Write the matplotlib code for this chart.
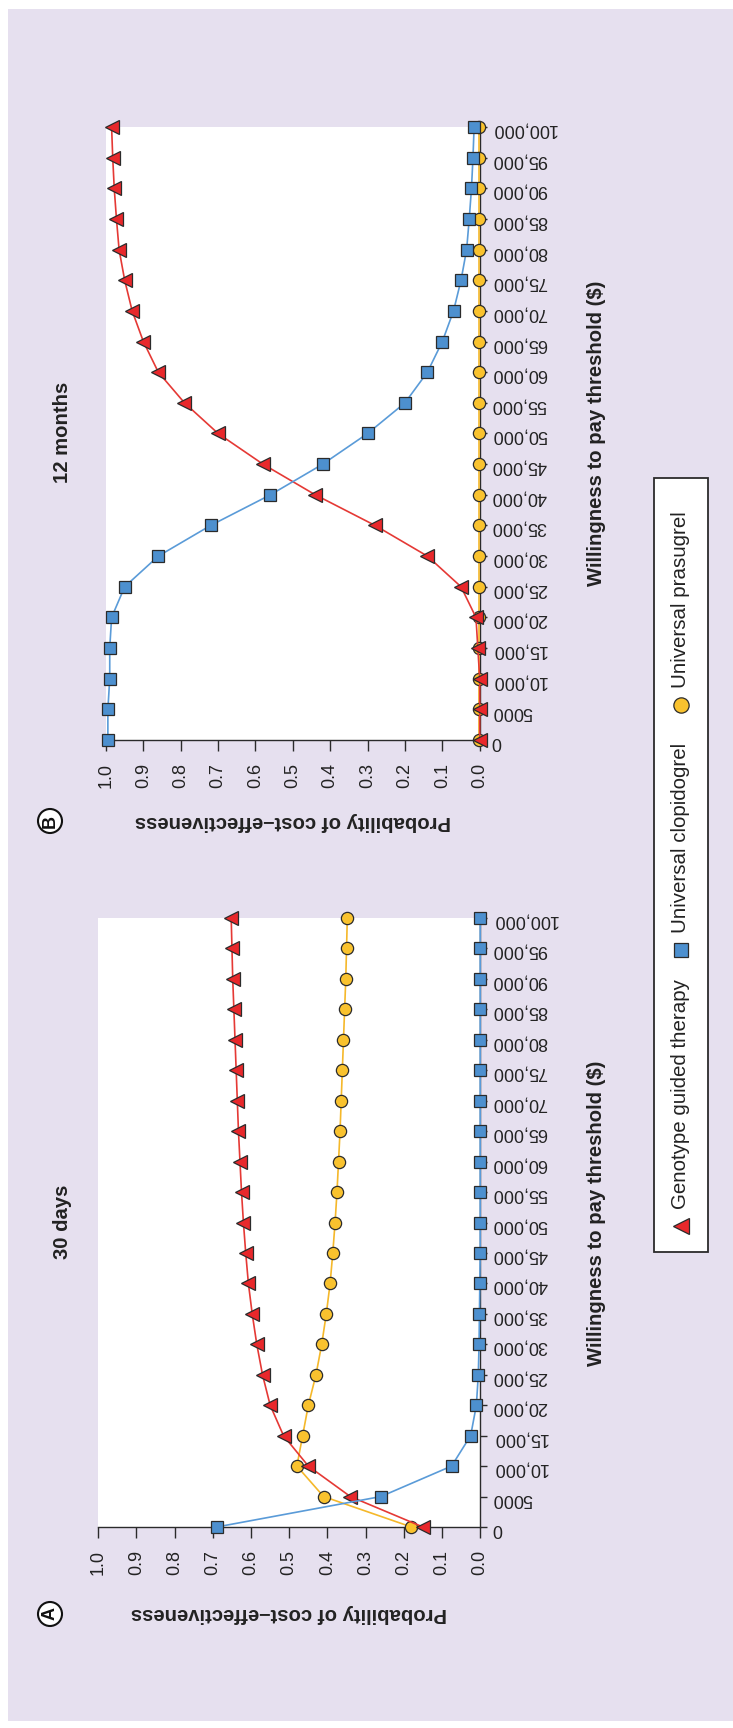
import matplotlib
matplotlib.use("Agg")
import matplotlib.pyplot as plt
from matplotlib.patches import Rectangle, Circle
from matplotlib.lines import Line2D

plt.rcParams['font.family'] = ['Liberation Sans', 'DejaVu Sans']

# ---------------- data ----------------
wtp = [0, 5000, 10000, 15000, 20000, 25000, 30000, 35000, 40000, 45000, 50000,
       55000, 60000, 65000, 70000, 75000, 80000, 85000, 90000, 95000, 100000]
wtp_labels = ["0", "5000", "10,000", "15,000", "20,000", "25,000", "30,000", "35,000",
              "40,000", "45,000", "50,000", "55,000", "60,000", "65,000", "70,000",
              "75,000", "80,000", "85,000", "90,000", "95,000", "100,000"]
prob_ticks = [0.0, 0.1, 0.2, 0.3, 0.4, 0.5, 0.6, 0.7, 0.8, 0.9, 1.0]
prob_labels = ["0.0", "0.1", "0.2", "0.3", "0.4", "0.5", "0.6", "0.7", "0.8", "0.9", "1.0"]

# Panel A: 30 days
a_genotype = [0.15, 0.34, 0.45, 0.515, 0.55, 0.57, 0.585, 0.597, 0.607, 0.614, 0.62,
              0.625, 0.629, 0.633, 0.636, 0.639, 0.642, 0.645, 0.648, 0.65, 0.652]
a_clopidogrel = [0.69, 0.26, 0.075, 0.025, 0.01, 0.005, 0.003, 0.002, 0.001, 0.0, 0.0,
                 0.0, 0.0, 0.0, 0.0, 0.0, 0.0, 0.0, 0.0, 0.0, 0.0]
a_prasugrel = [0.18, 0.41, 0.48, 0.465, 0.45, 0.43, 0.415, 0.403, 0.393, 0.386, 0.38,
               0.375, 0.371, 0.367, 0.364, 0.361, 0.358, 0.355, 0.352, 0.35, 0.348]

# Panel B: 12 months
b_genotype = [0.0, 0.0, 0.0, 0.005, 0.01, 0.05, 0.14, 0.28, 0.44, 0.58, 0.70,
              0.79, 0.86, 0.90, 0.93, 0.95, 0.965, 0.972, 0.978, 0.982, 0.985]
b_clopidogrel = [0.995, 0.995, 0.99, 0.99, 0.985, 0.95, 0.86, 0.72, 0.56, 0.42, 0.30,
                 0.20, 0.14, 0.10, 0.07, 0.05, 0.035, 0.028, 0.022, 0.018, 0.015]
b_prasugrel = [0.003, 0.003, 0.003, 0.003, 0.003, 0.003, 0.003, 0.003, 0.003, 0.003, 0.003,
               0.003, 0.003, 0.003, 0.003, 0.003, 0.003, 0.003, 0.003, 0.003, 0.003]

series_names = ["Genotype guided therapy", "Universal clopidogrel", "Universal prasugrel"]

# ---------------- style ----------------
W, H = 733, 1728
BG = "#E6E0EF"
EDGE = "#2b2b2b"
RED, RED_LINE = "#E8282B", "#E53935"
BLUE, BLUE_LINE = "#4D90CF", "#5A9BD8"
YEL, YEL_LINE = "#F9C22E", "#F5B82A"

fig = plt.figure(figsize=(W / 100, H / 100), dpi=100)
fig.patch.set_facecolor("white")

bg = fig.add_axes([0, 0, 1, 1], zorder=0)
bg.set_xlim(0, W)
bg.set_ylim(H, 0)
bg.axis("off")
bg.add_patch(Rectangle((8, 9), W - 8, 1712, facecolor=BG, edgecolor="none"))


def px_axes(x0, x1, ytop, ybot):
    return [x0 / W, (H - ybot) / H, (x1 - x0) / W, (ybot - ytop) / H]


def panel(rect, gen, clo, pra):
    ax = fig.add_axes(rect, zorder=2)
    ax.set_facecolor("white")
    ax.set_xlim(1.0, 0.0)
    ax.set_ylim(0, 100000)
    for s in ["top", "left"]:
        ax.spines[s].set_visible(False)
    for s in ["bottom", "right"]:
        ax.spines[s].set_color(EDGE)
        ax.spines[s].set_linewidth(1.0)
    ax.set_xticks(prob_ticks)
    ax.set_xticklabels(prob_labels)
    ax.yaxis.tick_right()
    ax.set_yticks(wtp)
    ax.set_yticklabels(wtp_labels)
    ax.tick_params(axis="x", direction="out", length=8, width=1, color=EDGE,
                   labelsize=13, labelrotation=90, pad=8.5, labelcolor="#222")
    ax.tick_params(axis="y", direction="out", length=5, width=1, color=EDGE,
                   labelsize=13, labelrotation=180, pad=3.5, labelcolor="#222")
    ax.plot(pra, wtp, color=YEL_LINE, lw=1.2, marker="o", ms=8.8, mfc=YEL,
            mec=EDGE, mew=0.9, clip_on=False, zorder=3)
    ax.plot(gen, wtp, color=RED_LINE, lw=1.2, marker="<", ms=10.5, mfc=RED,
            mec=EDGE, mew=0.9, clip_on=False, zorder=4)
    ax.plot(clo, wtp, color=BLUE_LINE, lw=1.2, marker="s", ms=9, mfc=BLUE,
            mec=EDGE, mew=0.9, clip_on=False, zorder=5)
    return ax


axB = panel(px_axes(106, 479.7, 127, 740), b_genotype, b_clopidogrel, b_prasugrel)
axA = panel(px_axes(98.3, 480.2, 918, 1527), a_genotype, a_clopidogrel, a_prasugrel)

lab_kw = dict(fontsize=14.6, fontweight="bold", color="#222", ha="center", va="center")
# panel titles
bg.text(62, 1222, "30 days", rotation=90, **lab_kw)
bg.text(62, 432, "12 months", rotation=90, **lab_kw)
# x (WTP) labels
bg.text(597, 1213, "Willingness to pay threshold ($)", rotation=90, **lab_kw)
bg.text(597, 433, "Willingness to pay threshold ($)", rotation=90, **lab_kw)
# y (probability) labels
bg.text(289, 1613, "Probability of cost\u2013effectiveness", rotation=180, **lab_kw)
bg.text(293, 821, "Probability of cost\u2013effectiveness", rotation=180, **lab_kw)
# panel letters
for (cx, cy, t) in [(50, 1614, "A"), (50, 821, "B")]:
    bg.add_patch(Circle((cx, cy), 12, facecolor="white", edgecolor="#111", lw=1.5))
    bg.text(cx + 0.5, cy, t, rotation=90, fontsize=13, fontweight="bold",
            ha="center", va="center", color="#111")

# legend (manual, rotated)
bg.add_patch(Rectangle((654, 478), 54, 774, facecolor="white", edgecolor=EDGE, lw=1.3))
handles = [("<", RED, 11.5), ("s", BLUE, 10), ("o", YEL, 11)]
leg_y = [1226, 950, 705]
for (mk, col, ms), yy, name in zip(handles, leg_y, series_names):
    bg.add_line(Line2D([681], [yy], marker=mk, ms=ms, mfc=col, mec=EDGE, mew=0.9,
                       linestyle="none"))
    bg.text(680, yy - 17, name, rotation=90, fontsize=14.8, ha="center", va="bottom",
            color="#222")

fig.savefig("out.png", dpi=100, facecolor=fig.get_facecolor())
